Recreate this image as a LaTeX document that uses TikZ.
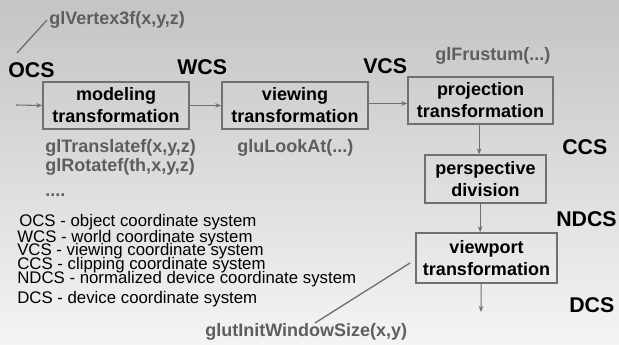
\documentclass[tikz,border=0pt]{standalone}
\usepackage{fontspec}
\setmainfont{Liberation Sans}
\usetikzlibrary{arrows.meta}
\definecolor{bgtop}{HTML}{C4C4C4}
\definecolor{bgbot}{HTML}{F4F4F4}
\definecolor{boxline}{HTML}{707070}
\definecolor{codegray}{HTML}{5E5E5E}
\tikzset{
  stagebox/.style={draw=boxline, line width=1.1pt, align=center, inner sep=0pt,
    font=\fontsize{13.5pt}{16.5pt}\selectfont\bfseries, text=black},
  cslabel/.style={anchor=base west, inner sep=0pt, font=\fontsize{16pt}{18pt}\selectfont\bfseries, text=black},
  codelabel/.style={anchor=base west, inner sep=0pt, font=\fontsize{13.5pt}{16pt}\selectfont\bfseries, text=codegray},
  legend/.style={anchor=base west, inner sep=0pt, font=\fontsize{12.6pt}{14pt}\selectfont, text=black},
  flow/.style={draw=boxline, line width=0.8pt, -{Stealth[length=4.5pt,width=3.5pt]}},
  pointer/.style={draw=boxline, line width=1pt}
}
\begin{document}
\begin{tikzpicture}[x=0.75pt,y=-0.75pt]
\shade[top color=bgtop, bottom color=bgbot] (0,0) rectangle (619,345);
\useasboundingbox (0,0) rectangle (619,345);

% boxes
\node[stagebox, minimum width=109.5pt, minimum height=35.25pt] (mod) at (116,105.5) {modeling\\transformation};
\node[stagebox, minimum width=109.5pt, minimum height=35.25pt] (view) at (295,105.5) {viewing\\transformation};
\node[stagebox, minimum width=108.75pt, minimum height=35.25pt] (proj) at (480.5,100.5) {projection\\transformation};
\node[stagebox, minimum width=90.75pt, minimum height=36pt] (persp) at (485.5,179) {perspective\\division};
\node[stagebox, minimum width=105.75pt, minimum height=37.5pt] (vp) at (486.5,258) {viewport\\transformation};

% coordinate system labels
\node[cslabel] (ocs) at (8,78) {OCS};
\node[cslabel] (wcs) at (177,75) {WCS};
\node[cslabel] (vcs) at (363,74) {VCS};
\node[cslabel] (ccs) at (562,155) {CCS};
\node[cslabel] (ndcs) at (556,227) {NDCS};
\node[cslabel] (dcs) at (569,313) {DCS};

% OpenGL calls
\node[codelabel] (vtx) at (49,25) {glVertex3f(x,y,z)};
\node[codelabel] (trans) at (45,153) {glTranslatef(x,y,z)};
\node[codelabel] (rot) at (45,172) {glRotatef(th,x,y,z)};
\node[codelabel] (dots) at (45,197) {....};
\node[codelabel] (look) at (237,153) {gluLookAt(...)};
\node[codelabel] (frus) at (435,61) {glFrustum(...)};
\node[codelabel] (glut) at (205,337) {glutInitWindowSize(x,y)};

% legend
\node[legend] (l1) at (19,227) {OCS - object coordinate system};
\node[legend] (l2) at (17,243) {WCS - world coordinate system};
\node[legend] (l3) at (17,256) {VCS - viewing coordinate system};
\node[legend] (l4) at (17,270) {CCS - clipping coordinate system};
\node[legend] (l5) at (17,284) {NDCS - normalized device coordinate system};
\node[legend] (l6) at (17,304) {DCS - device coordinate system};

% connectors
\coordinate (in) at (16,105);
\coordinate (out) at (481,312);
\coordinate (vtxend) at (17,53);
\coordinate (vtxstart) at (47,20);
\coordinate (glutstart) at (410,263);
\coordinate (glutend) at (315,323);

\draw[flow] (in) -- (mod.west);
\draw[flow] (mod.east) -- (view.west);
\draw[flow] ([yshift=1.5pt]view.east) -- ([yshift=1.5pt]view.east -| proj.west);
\draw[flow] ([xshift=-1pt]proj.south) -- ([xshift=-1pt]proj.south |- persp.north);
\draw[flow] ([xshift=-4pt]persp.south) -- ([xshift=-4pt]persp.south |- vp.north);
\draw[flow] ([xshift=-4pt]vp.south) -- (out);
\draw[pointer] (vtxend) -- (vtxstart);
\draw[pointer] (glutstart) -- (glutend);
\end{tikzpicture}
\end{document}
